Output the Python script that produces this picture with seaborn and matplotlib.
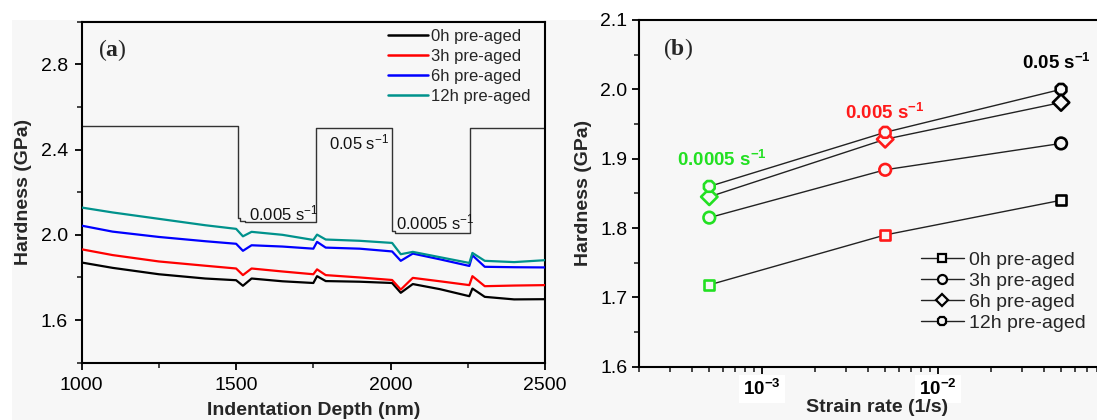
import numpy as np
import pandas as pd
import matplotlib
matplotlib.use("Agg")
import matplotlib.pyplot as plt
import seaborn as sns
from matplotlib.lines import Line2D
from matplotlib.patches import Rectangle
from matplotlib.ticker import MultipleLocator, FixedLocator, NullFormatter, LogLocator, FixedFormatter

# ---------------- data: panel (a) ----------------
depth = [1000, 1100, 1250, 1400, 1500, 1522, 1550, 1650, 1750, 1762, 1790,
         1900, 2005, 2033, 2072, 2160, 2255, 2265, 2305, 2400, 2500]
h_0h = [1.870, 1.845, 1.815, 1.795, 1.787, 1.761, 1.795, 1.782, 1.774, 1.806, 1.783,
        1.780, 1.774, 1.728, 1.769, 1.745, 1.712, 1.748, 1.709, 1.697, 1.698]
h_3h = [1.932, 1.905, 1.875, 1.855, 1.842, 1.811, 1.842, 1.828, 1.815, 1.838, 1.811,
        1.800, 1.788, 1.743, 1.798, 1.782, 1.764, 1.806, 1.759, 1.762, 1.764]
h_6h = [2.043, 2.015, 1.990, 1.970, 1.958, 1.925, 1.951, 1.945, 1.935, 1.967, 1.940,
        1.935, 1.922, 1.878, 1.912, 1.885, 1.854, 1.904, 1.850, 1.848, 1.847]
h_12h = [2.128, 2.105, 2.075, 2.045, 2.028, 1.993, 2.014, 2.000, 1.976, 2.001, 1.978,
         1.972, 1.962, 1.909, 1.920, 1.895, 1.868, 1.915, 1.878, 1.872, 1.881]
series_names = ["0h pre-aged", "3h pre-aged", "6h pre-aged", "12h pre-aged"]
line_colors = ["#000000", "#ff0000", "#0000ff", "#00928c"]

rate_depth = [1000, 1505, 1512, 1530, 1757, 2006, 2014, 2030, 2257, 2500]
rate_level = [2.512, 2.080, 2.065, 2.058, 2.502, 2.018, 2.010, 2.007, 2.500, 2.500]
rate_text_a = ["0.005 s$^{-1}$", "0.05 s$^{-1}$", "0.0005 s$^{-1}$"]
rate_text_a_x = [1542, 1800, 2018]
rate_text_a_y = [2.101, 2.434, 2.059]

# ---------------- data: panel (b) ----------------
strain_rate = [5e-4, 5e-3, 5e-2]
hb_0h = [1.718, 1.790, 1.840]
hb_3h = [1.815, 1.884, 1.922]
hb_6h = [1.845, 1.928, 1.981]
hb_12h = [1.860, 1.938, 2.000]
rate_names = ["0.0005", "0.005", "0.05"]
rate_colors = ["#22e022", "#ff1a1a", "#000000"]
markers_b = ["s", "o", "D", "8"]
rate_text_b = [r"0.0005 s$^{\mathbf{-1}}$", r"0.005 s$^{\mathbf{-1}}$", r"0.05 s$^{\mathbf{-1}}$"]
rate_text_b_x = [5.9e-4, 5.0e-3, 4.73e-2]
rate_text_b_y = [1.898, 1.966, 2.038]
xtick_b = [1e-3, 1e-2, 1e-1]
xtick_b_labels = [r"$\mathbf{10^{-3}}$", r"$\mathbf{10^{-2}}$", ""]

# ---------------- style ----------------
sns.set_theme(style="ticks")
plt.rcParams["font.family"] = ["Liberation Sans", "DejaVu Sans"]
plt.rcParams["mathtext.fontset"] = "custom"
plt.rcParams["mathtext.rm"] = "Liberation Sans"
plt.rcParams["mathtext.it"] = "Liberation Sans:italic"
plt.rcParams["mathtext.bf"] = "Liberation Sans:bold"
plt.rcParams["mathtext.sf"] = "Liberation Serif:bold"
plt.rcParams["axes.linewidth"] = 1.5
plt.rcParams["xtick.major.width"] = 1.3
plt.rcParams["ytick.major.width"] = 1.3
plt.rcParams["xtick.minor.width"] = 1.2
plt.rcParams["ytick.minor.width"] = 1.2

BG = "#f7f7f7"
fig = plt.figure(figsize=(10.97, 4.2), dpi=100)
fig.patch.set_facecolor("white")
fig.patches.append(Rectangle((12 / 1097, 0), 1, 1 - 20 / 420, transform=fig.transFigure,
                             facecolor=BG, edgecolor="none", zorder=-10))

W, H = 1097, 420
def pos(x0, x1, ytop, ybot):
    return [x0 / W, 1 - ybot / H, (x1 - x0) / W, (ybot - ytop) / H]

ax1 = fig.add_axes(pos(81.7, 545, 21.7, 362.7))
ax2 = fig.add_axes(pos(639.3, 1114, 20, 366.7))
for ax in (ax1, ax2):
    ax.set_facecolor("none")
    for s in ax.spines.values():
        s.set_color("black")

# ---------------- panel (a) ----------------
df_a = pd.DataFrame({
    "depth": depth * 4,
    "hardness": h_0h + h_3h + h_6h + h_12h,
    "series": sum([[n] * len(depth) for n in series_names], []),
})
sns.lineplot(data=df_a, x="depth", y="hardness", hue="series", hue_order=series_names,
             palette=dict(zip(series_names, line_colors)), linewidth=1.6, legend=False,
             ax=ax1, zorder=3)
df_rate = pd.DataFrame({"depth": rate_depth, "level": rate_level})
sns.lineplot(data=df_rate, x="depth", y="level", color="#333333", linewidth=1.0,
             drawstyle="steps-post", ax=ax1, zorder=2)
for t, x, y in zip(rate_text_a, rate_text_a_x, rate_text_a_y):
    ax1.text(x, y, t, fontsize=12, ha="left", va="center", color="#111111")

ax1.set_xlim(1000, 2500)
ax1.set_ylim(1.4, 3.0)
ax1.xaxis.set_major_locator(FixedLocator([1000, 1500, 2000, 2500]))
ax1.xaxis.set_minor_locator(FixedLocator([1250, 1750, 2250]))
ax1.yaxis.set_major_locator(FixedLocator([1.6, 2.0, 2.4, 2.8]))
ax1.yaxis.set_minor_locator(FixedLocator([1.4, 1.8, 2.2, 2.6, 3.0]))
ax1.yaxis.set_major_formatter(FixedFormatter(["1.6", "2.0", "2.4", "2.8"]))
ax1.tick_params(which="major", direction="out", length=5, labelsize=14, pad=5, colors="black")
ax1.tick_params(which="minor", direction="out", length=3.5)
ax1.set_xlabel("Indentation Depth (nm)", fontsize=14, fontweight="bold", labelpad=6)
ax1.set_ylabel("Hardness (GPa)", fontsize=14, fontweight="bold", labelpad=6)
ax1.text(0.035, 0.955, r"($\mathsf{a}$)", transform=ax1.transAxes, fontsize=17,
         family="Liberation Serif", ha="left", va="top")

handles_a = [Line2D([], [], color=c, lw=1.8) for c in line_colors]
ax1.legend(handles_a, series_names, loc="upper left", bbox_to_anchor=(388 / W, 1 - 29 / H),
           bbox_transform=fig.transFigure, frameon=False, fontsize=12, handlelength=2.4,
           handletextpad=0.2, labelspacing=0.3, borderpad=0, borderaxespad=0)

# ---------------- panel (b) ----------------
series_b = [hb_0h, hb_3h, hb_6h, hb_12h]
df_b = pd.DataFrame({
    "rate": strain_rate * 4,
    "hardness": sum(series_b, []),
    "series": sum([[n] * 3 for n in series_names], []),
    "ratename": rate_names * 4,
})
for name in series_names:
    sub = df_b[df_b["series"] == name]
    sns.lineplot(data=sub, x="rate", y="hardness", color="#222222", linewidth=1.0,
                 ax=ax2, zorder=2, legend=False)
for name, m in zip(series_names, markers_b):
    sub = df_b[df_b["series"] == name]
    before = len(ax2.collections)
    sns.scatterplot(data=sub, x="rate", y="hardness", hue="ratename", hue_order=rate_names,
                    palette=dict(zip(rate_names, rate_colors)), marker=m,
                    s=70 if m != "s" else 52, linewidth=1.9, legend=False, ax=ax2, zorder=4)
    for coll in ax2.collections[before:]:
        fc = coll.get_facecolor()
        coll.set_edgecolor(fc)
        coll.set_facecolor(BG)

for t, x, y, c in zip(rate_text_b, rate_text_b_x, rate_text_b_y, rate_colors):
    ax2.text(x, y, t, fontsize=13.5, fontweight="bold", color=c, ha="center", va="center")

ax2.set_xscale("log")
ax2.set_xlim(2e-4, 1e-1)
ax2.set_ylim(1.6, 2.1)
ax2.xaxis.set_major_locator(FixedLocator(xtick_b))
ax2.xaxis.set_major_formatter(FixedFormatter(xtick_b_labels))
ax2.xaxis.set_minor_locator(LogLocator(base=10, subs=np.arange(2, 10)))
ax2.xaxis.set_minor_formatter(NullFormatter())
ax2.yaxis.set_major_locator(MultipleLocator(0.1))
ax2.yaxis.set_minor_locator(MultipleLocator(0.05))
ax2.yaxis.set_major_formatter(matplotlib.ticker.FormatStrFormatter("%.1f"))
ax2.tick_params(which="major", direction="out", length=5, labelsize=14, colors="black")
ax2.tick_params(axis="x", which="major", pad=4, labelsize=13.5)
ax2.tick_params(which="minor", direction="out", length=3.5)
for lab in ax2.get_xticklabels():
    lab.set_bbox(dict(facecolor="white", edgecolor="none", pad=3))
ax2.set_xlabel("Strain rate (1/s)", fontsize=14, fontweight="bold", labelpad=0)
ax2.set_ylabel("Hardness (GPa)", fontsize=14, fontweight="bold", labelpad=6)
ax2.text(0.05, 0.955, r"($\mathsf{b}$)", transform=ax2.transAxes, fontsize=17,
         family="Liberation Serif", ha="left", va="top")

handles_b = [Line2D([], [], color="#222222", lw=1.0, marker=m, ms=6.5 if m != "s" else 5.5,
                    mfc=BG, mec="black", mew=1.6) for m in markers_b]
ax2.legend(handles_b, series_names, loc="upper left", bbox_to_anchor=(921 / W, 1 - 251 / H),
           bbox_transform=fig.transFigure, frameon=False, fontsize=14, handlelength=2.2,
           handletextpad=0.25, labelspacing=0.18, borderpad=0, borderaxespad=0)

fig.savefig("out.png", dpi=100, facecolor=fig.get_facecolor())
